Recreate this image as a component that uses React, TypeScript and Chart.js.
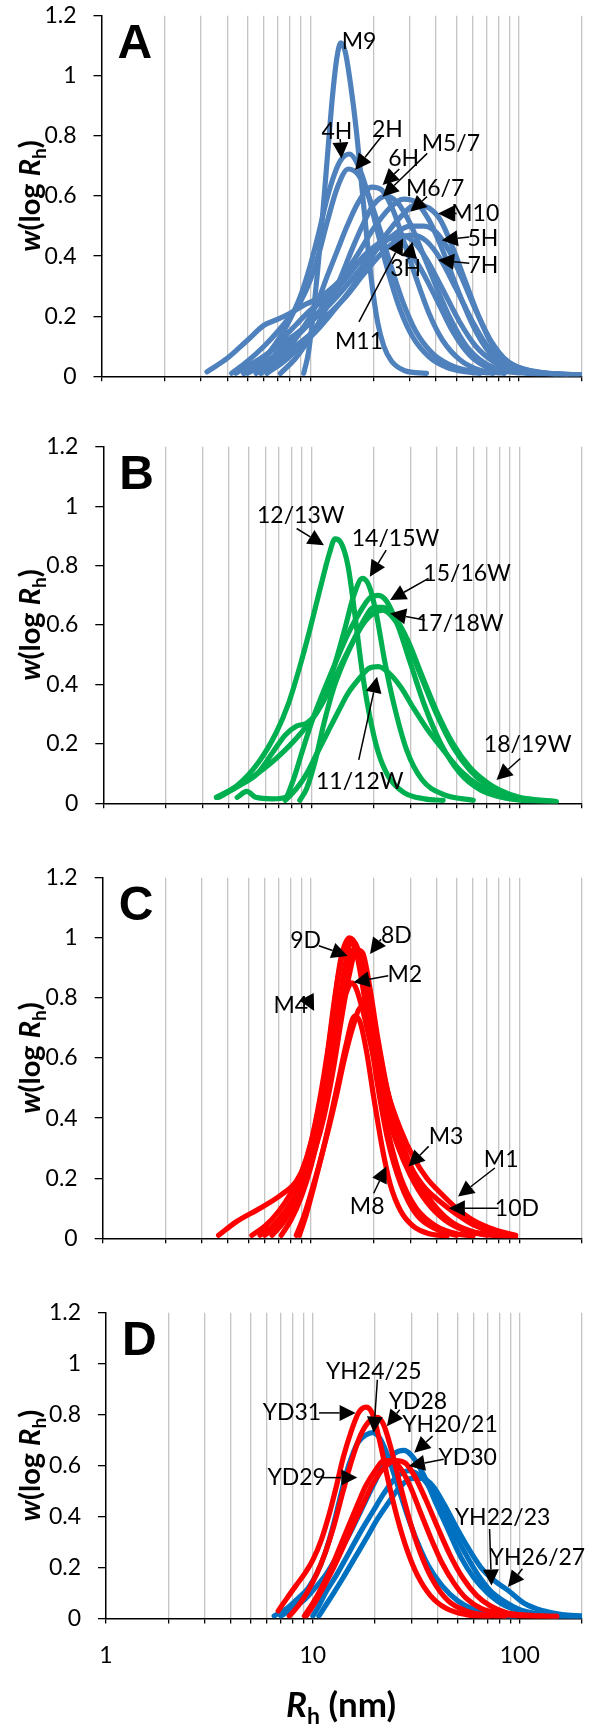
import React, { useEffect, useRef } from 'react';
import { Chart, registerables } from 'chart.js';
Chart.register(...registerables);

type Pt = [number, number];

// ---------- axes ----------
const X_TICKS = [1, 2, 3, 4, 5, 6, 7, 8, 9, 10, 20, 30, 40, 50, 60, 70, 80, 90, 100, 200];
const X_LABELS = [1, 10, 100];
const Y_TICKS = [0, 0.2, 0.4, 0.6, 0.8, 1, 1.2];

// ---------- panel A (R_h nm, w) ----------
const A_M9: Pt[] = [[9.3,0.01],[9.8,0.08],[10.3,0.2],[10.8,0.34],[11.4,0.52],[12.1,0.74],[12.8,0.94],[13.4,1.06],[14.0,1.11],[14.7,1.08],[15.6,0.97],[16.6,0.82],[17.6,0.64],[18.6,0.47],[19.7,0.31],[21.0,0.18],[22.5,0.1],[24.5,0.05],[28,0.02],[32,0.012],[36,0.01]];
const A_4H: Pt[] = [[4.8,0.01],[6,0.06],[7,0.12],[8,0.19],[9,0.27],[10,0.37],[11,0.48],[12,0.59],[13,0.67],[14,0.72],[15.4,0.74],[17,0.7],[19,0.6],[21,0.48],[24,0.33],[27,0.22],[31,0.13],[37,0.065],[45,0.03],[55,0.015],[65,0.01]];
const A_2H: Pt[] = [[4.2,0.01],[5,0.05],[6,0.1],[7,0.15],[8,0.2],[9,0.25],[10,0.32],[11,0.41],[12,0.51],[13.5,0.63],[15.2,0.69],[17,0.67],[19,0.6],[21.5,0.49],[24.5,0.36],[28,0.24],[32,0.15],[38,0.08],[46,0.04],[58,0.018],[75,0.01]];
const A_6H: Pt[] = [[5.5,0.01],[7,0.06],[8,0.1],[9,0.15],[10,0.2],[11,0.26],[12,0.33],[13.5,0.42],[15,0.5],[17,0.58],[19.7,0.63],[22,0.62],[25,0.55],[28,0.45],[32,0.33],[37,0.21],[43,0.12],[52,0.055],[65,0.02],[85,0.01]];
const A_M57: Pt[] = [[7.2,0.01],[8.5,0.06],[10,0.13],[12,0.23],[14,0.33],[16,0.43],[18,0.51],[20,0.57],[23,0.6],[26,0.58],[30,0.51],[35,0.4],[40,0.3],[47,0.19],[56,0.1],[68,0.045],[85,0.018],[110,0.01],[150,0.006]];
const A_M67: Pt[] = [[5,0.01],[6,0.04],[7,0.08],[8.5,0.13],[10,0.18],[12,0.25],[14,0.32],[17,0.41],[20,0.49],[24,0.56],[28,0.59],[32,0.58],[37,0.52],[43,0.42],[50,0.3],[60,0.17],[72,0.08],[90,0.03],[120,0.012],[190,0.005]];
const A_M10: Pt[] = [[6.2,0.01],[7.5,0.05],[9,0.1],[11,0.16],[13,0.22],[16,0.3],[19,0.38],[23,0.47],[27,0.53],[32,0.57],[37,0.56],[42,0.52],[48,0.43],[55,0.32],[64,0.2],[75,0.1],[90,0.045],[115,0.018],[150,0.008],[200,0.005]];
const A_5H: Pt[] = [[4.4,0.01],[5.5,0.05],[7,0.1],[8.5,0.14],[10,0.18],[12,0.23],[14,0.28],[17,0.35],[20,0.41],[25,0.47],[30,0.5],[35,0.5],[40,0.48],[46,0.42],[53,0.33],[62,0.22],[73,0.12],[88,0.05],[110,0.02],[150,0.008],[200,0.005]];
const A_7H: Pt[] = [[5.8,0.01],[7,0.05],[8.5,0.1],[10,0.14],[12,0.2],[15,0.27],[18,0.34],[22,0.41],[27,0.46],[31,0.47],[36,0.45],[42,0.39],[50,0.29],[60,0.18],[72,0.09],[88,0.04],[115,0.015],[170,0.006]];
const A_3H: Pt[] = [[3.2,0.015],[4,0.06],[5,0.12],[6,0.17],[7,0.19],[8,0.21],[9.5,0.24],[11,0.26],[13,0.3],[16,0.36],[20,0.42],[24,0.46],[27,0.47],[31,0.45],[36,0.39],[43,0.29],[52,0.18],[62,0.1],[75,0.05],[95,0.02],[130,0.01]];
const A_M11: Pt[] = [[4.8,0.01],[6,0.06],[7,0.11],[8.5,0.17],[10,0.22],[11.5,0.25],[13,0.28],[15,0.33],[18,0.4],[21,0.44],[24,0.46],[28,0.44],[33,0.37],[40,0.26],[48,0.15],[58,0.07],[70,0.03],[85,0.012]];

// ---------- panel B ----------
const B_1213: Pt[] = [[3.5,0.02],[4.4,0.06],[5.6,0.14],[6.8,0.24],[7.8,0.34],[8.8,0.46],[9.8,0.58],[11,0.72],[12.2,0.84],[13,0.89],[13.8,0.88],[15,0.8],[16.3,0.62],[17.5,0.45],[19,0.3],[21,0.17],[23.5,0.09],[28,0.035],[35,0.015],[43,0.01]];
const B_1415: Pt[] = [[3.5,0.02],[4.5,0.06],[5.5,0.1],[6.5,0.17],[7.5,0.23],[8.5,0.26],[9.5,0.27],[10.5,0.3],[11.7,0.37],[13,0.47],[14.4,0.58],[16,0.7],[17.6,0.757],[19,0.73],[20.5,0.64],[22.5,0.48],[25,0.33],[28.7,0.18],[34,0.08],[43,0.03],[60,0.01]];
const B_1516: Pt[] = [[4.4,0.02],[4.9,0.04],[5.4,0.02],[6.5,0.015],[7.5,0.02],[8.2,0.08],[9,0.17],[10,0.27],[11.5,0.38],[13,0.47],[15,0.57],[17,0.64],[19,0.69],[21,0.7],[23,0.68],[26,0.6],[30,0.47],[35,0.33],[42,0.2],[52,0.1],[65,0.045],[85,0.018],[110,0.008],[150,0.005]];
const B_1718: Pt[] = [[3.6,0.02],[4.5,0.06],[5.5,0.1],[6.5,0.14],[7.5,0.18],[8.5,0.22],[9.5,0.26],[10.5,0.3],[12,0.37],[14,0.47],[16,0.55],[18,0.61],[20,0.64],[22,0.65],[25,0.62],[29,0.54],[34,0.42],[40,0.3],[48,0.19],[58,0.11],[70,0.06],[85,0.03],[110,0.012],[150,0.005]];
const B_1819: Pt[] = [[8.8,0.01],[9.5,0.05],[10.5,0.15],[11.5,0.27],[12.7,0.38],[14,0.46],[16,0.55],[18,0.62],[20,0.66],[22,0.66],[25,0.63],[29,0.55],[34,0.43],[40,0.31],[48,0.2],[58,0.12],[70,0.07],[80,0.045],[100,0.02],[130,0.01],[150,0.006]];
const B_1112: Pt[] = [[7.5,0.01],[8.5,0.05],[9.5,0.1],[10.5,0.16],[12,0.24],[13.5,0.31],[15,0.37],[17,0.42],[19,0.455],[21,0.46],[23.5,0.44],[27,0.39],[31,0.32],[36,0.25],[43,0.18],[52,0.11],[64,0.06],[80,0.03],[100,0.015],[150,0.006]];

// ---------- panel C ----------
const C_9D: Pt[] = [[5.2,0.01],[6,0.04],[7,0.09],[8,0.15],[9,0.22],[10,0.32],[11,0.46],[12,0.62],[13,0.8],[14,0.94],[15.3,1.0],[16.5,0.97],[17.5,0.88],[19,0.72],[21,0.52],[23.5,0.35],[27,0.2],[32,0.1],[40,0.04],[50,0.015],[60,0.008]];
const C_M4: Pt[] = [[3.6,0.01],[4.4,0.056],[5.7,0.1],[7.2,0.145],[8.5,0.19],[9.5,0.26],[10.5,0.38],[11.5,0.52],[12.5,0.7],[13.5,0.87],[14.5,0.97],[15.5,0.99],[16.5,0.95],[17.5,0.86],[19,0.7],[21,0.5],[23.5,0.32],[27,0.18],[32,0.08],[40,0.03],[50,0.01]];
const C_8D: Pt[] = [[5.7,0.01],[6.5,0.04],[7.5,0.09],[8.5,0.15],[9.5,0.22],[10.5,0.3],[11.5,0.4],[12.7,0.55],[14,0.73],[15.3,0.88],[16.5,0.96],[17.7,0.95],[19,0.85],[21,0.66],[23.5,0.48],[27,0.33],[32,0.2],[38,0.12],[46,0.06],[58,0.025],[75,0.01],[96,0.005]];
const C_M2: Pt[] = [[7.2,0.01],[8,0.06],[9,0.14],[10,0.24],[11,0.36],[12,0.5],[13,0.63],[14,0.76],[15,0.83],[15.7,0.85],[16.5,0.83],[18,0.74],[20,0.6],[22.5,0.45],[26,0.31],[30,0.21],[36,0.12],[44,0.06],[55,0.025],[70,0.01]];
const C_M3: Pt[] = [[8.5,0.01],[9.2,0.07],[10,0.15],[11,0.25],[12,0.35],[13.2,0.47],[14.5,0.6],[16,0.71],[17.4,0.77],[18.5,0.75],[20,0.67],[22,0.55],[25,0.4],[28.7,0.27],[33,0.18],[40,0.1],[48,0.05],[60,0.02],[80,0.008]];
const C_M8: Pt[] = [[8.8,0.01],[9.5,0.08],[10.3,0.17],[11.2,0.27],[12.3,0.39],[13.5,0.52],[14.8,0.65],[16.2,0.74],[17.2,0.72],[18.5,0.62],[20,0.47],[22,0.3],[24,0.18],[27,0.09],[31,0.04],[37,0.015],[45,0.008]];
const C_M1: Pt[] = [[6,0.01],[7,0.05],[8,0.11],[9,0.18],[10,0.27],[11,0.38],[12,0.52],[13,0.67],[14,0.82],[15,0.92],[16,0.96],[17,0.93],[19,0.8],[21,0.63],[23.5,0.48],[27,0.36],[31,0.27],[36,0.2],[42,0.15],[50,0.1],[60,0.06],[75,0.03],[96,0.01]];
const C_10D: Pt[] = [[6.5,0.01],[7.5,0.06],[8.5,0.13],[9.5,0.21],[10.5,0.31],[11.5,0.44],[12.5,0.6],[13.5,0.76],[14.5,0.9],[15.8,0.99],[17,0.95],[18.5,0.8],[20.5,0.62],[23,0.45],[26,0.33],[30,0.24],[35,0.17],[42,0.12],[50,0.08],[60,0.045],[75,0.02],[96,0.008]];

// ---------- panel D ----------
const D_YD31: Pt[] = [[6.8,0.03],[7.5,0.08],[8.3,0.13],[9.2,0.18],[10,0.23],[11,0.31],[12,0.41],[13,0.52],[14,0.63],[15.4,0.74],[16.7,0.81],[18.1,0.83],[19.5,0.8],[21,0.7],[23,0.55],[25.5,0.4],[28.5,0.27],[32,0.17],[37,0.09],[44,0.04],[55,0.015],[71,0.008]];
const D_YD28: Pt[] = [[7.7,0.01],[8.5,0.05],[9.5,0.11],[10.5,0.18],[11.5,0.26],[12.6,0.36],[14,0.5],[15.4,0.62],[17,0.72],[19,0.78],[20.5,0.79],[22,0.76],[24,0.66],[26.5,0.52],[29.5,0.38],[33,0.26],[38,0.15],[45,0.07],[55,0.03],[70,0.012],[85,0.008]];
const D_YD29: Pt[] = [[9.1,0.01],[10,0.06],[11,0.12],[12.3,0.2],[13.5,0.28],[15,0.37],[16.5,0.45],[18,0.52],[20,0.58],[22,0.62],[24,0.62],[26.5,0.59],[29.5,0.52],[33,0.42],[37,0.32],[42,0.22],[48,0.14],[55,0.08],[65,0.04],[80,0.02],[100,0.01],[151,0.008]];
const D_YD30: Pt[] = [[9.3,0.01],[10.2,0.06],[11.2,0.12],[12.6,0.2],[14,0.28],[15.5,0.36],[17.5,0.45],[19.5,0.53],[22,0.59],[25,0.62],[28,0.61],[31,0.56],[35,0.47],[40,0.36],[46,0.25],[53,0.16],[62,0.09],[72,0.05],[85,0.025],[100,0.015],[125,0.01],[151,0.008]];
const D_YH2425: Pt[] = [[6.5,0.01],[7.5,0.04],[8.5,0.08],[9.5,0.12],[10.5,0.18],[11.5,0.26],[12.5,0.36],[13.5,0.47],[14.5,0.57],[15.5,0.64],[16.5,0.69],[18,0.72],[19.5,0.73],[21,0.71],[23,0.64],[25.5,0.53],[28.5,0.41],[32,0.3],[36,0.21],[42,0.13],[50,0.07],[60,0.035],[75,0.015],[95,0.007]];
const D_YH2021: Pt[] = [[7,0.01],[8,0.04],[9,0.07],[10,0.11],[11.5,0.17],[13,0.24],[15,0.33],[17,0.42],[19.5,0.52],[22,0.6],[25,0.65],[27.5,0.66],[30,0.64],[34,0.57],[39,0.46],[45,0.35],[52,0.24],[60,0.16],[70,0.1],[85,0.05],[105,0.025],[130,0.012],[190,0.006]];
const D_YH2223: Pt[] = [[10,0.01],[10.7,0.05],[11.5,0.1],[13,0.17],[15,0.26],[17,0.34],[19.5,0.42],[22,0.49],[25,0.55],[29,0.58],[33,0.56],[37,0.51],[42,0.43],[48,0.34],[55,0.25],[63,0.17],[72,0.11],[85,0.065],[100,0.035],[125,0.018],[160,0.01],[200,0.008]];
const D_YH2627: Pt[] = [[10.7,0.01],[11.5,0.05],[12.6,0.1],[14,0.16],[16,0.24],[18,0.31],[20.5,0.39],[23,0.45],[26,0.51],[30,0.55],[34,0.55],[38,0.52],[43,0.45],[50,0.35],[57,0.27],[65,0.2],[75,0.15],[88,0.11],[105,0.06],[130,0.03],[160,0.015],[200,0.01]];

// ---------- annotations: [label, textR, textW, fromR, fromW, tipR, tipW] ----------
type Note = [string, number, number, number?, number?, number?, number?];
const NOTES_A: Note[] = [
  ['M9', 17.1, 1.115],
  ['4H', 13.4, 0.814, 13.9, 0.79, 14.1, 0.725],
  ['2H', 23.4, 0.82, 21.9, 0.798, 16.4, 0.687],
  ['6H', 28, 0.726, 26.7, 0.69, 22.2, 0.637],
  ['M5/7', 47.1, 0.776, 36.3, 0.742, 22.2, 0.598],
  ['M6/7', 39.6, 0.626, 36.2, 0.598, 30.1, 0.548],
  ['M10', 61.6, 0.542, 50.2, 0.542, 40.9, 0.542],
  ['5H', 67.1, 0.459, 57.7, 0.464, 42.6, 0.453],
  ['7H', 67.1, 0.37, 57.7, 0.376, 40.9, 0.387],
  ['3H', 28.6, 0.359, 29.6, 0.39, 30.8, 0.448],
  ['M11', 17.1, 0.114, 17.1, 0.181, 27.8, 0.459],
];
const NOTES_B: Note[] = [
  ['12/13W', 8.9, 0.97, 8.5, 0.925, 11.5, 0.869],
  ['14/15W', 25.4, 0.892, 22.9, 0.852, 19.1, 0.763],
  ['15/16W', 56.1, 0.774, 36.6, 0.757, 23.9, 0.684],
  ['17/18W', 51.7, 0.606, 35.1, 0.617, 23.9, 0.639],
  ['18/19W', 109.6, 0.196, 101, 0.151, 77.6, 0.0785],
  ['11/12W', 17.1, 0.073, 16.9, 0.146, 20.7, 0.426],
];
const NOTES_C: Note[] = [
  ['9D', 9.43, 0.99, 10.9, 0.974, 15.0, 0.94],
  ['8D', 25.7, 1.007, 21.7, 0.996, 19.2, 0.946],
  ['M2', 28.2, 0.879, 23.5, 0.874, 16.0, 0.852],
  ['M4', 8.0, 0.774, 9.6, 0.8, 10.35, 0.757],
  ['M3', 44.5, 0.34, 36.7, 0.306, 29.4, 0.239],
  ['M8', 18.6, 0.106, 20, 0.15, 23.0, 0.239],
  ['M1', 81.8, 0.262, 76.3, 0.234, 50.8, 0.139],
  ['10D', 97.4, 0.1, 79.4, 0.1, 45.9, 0.1],
];
const NOTES_D: Note[] = [
  ['YH24/25', 19.7, 0.97, 20.5, 0.937, 19.7, 0.729],
  ['YD31', 7.92, 0.807, 10.7, 0.807, 16.1, 0.807],
  ['YD28', 32.2, 0.853, 26.3, 0.82, 22.8, 0.755],
  ['YH20/21', 46, 0.761, 37.9, 0.716, 30.9, 0.651],
  ['YD30', 56, 0.631, 42.9, 0.625, 29.1, 0.599],
  ['YD29', 8.35, 0.553, 11.1, 0.553, 16.4, 0.553],
  ['YH22/23', 82.6, 0.397, 71.5, 0.351, 73, 0.13],
  ['YH26/27', 121.7, 0.241, 103, 0.195, 87.7, 0.124],
];

const BLUE_A = '#4F81BD';
const GREEN = '#00B050';
const RED = '#FF0000';
const BLUE_D = '#0070C0';

type Series = { name: string; color: string; pts: Pt[] };
type PanelDef = {
  letter: string;
  series: Series[];
  notes: Note[];
  showX: boolean;
  box: { left: number; top: number; bottom: number; decade: number };
};

const PANELS: PanelDef[] = [
  {
    letter: 'A', showX: false, notes: NOTES_A,
    box: { left: 101.5, top: 15.7, bottom: 376.3, decade: 214 },
    series: [
      { name: 'M9', color: BLUE_A, pts: A_M9 }, { name: '4H', color: BLUE_A, pts: A_4H },
      { name: '2H', color: BLUE_A, pts: A_2H }, { name: '6H', color: BLUE_A, pts: A_6H },
      { name: 'M5/7', color: BLUE_A, pts: A_M57 }, { name: 'M6/7', color: BLUE_A, pts: A_M67 },
      { name: 'M10', color: BLUE_A, pts: A_M10 }, { name: '5H', color: BLUE_A, pts: A_5H },
      { name: '7H', color: BLUE_A, pts: A_7H }, { name: '3H', color: BLUE_A, pts: A_3H },
      { name: 'M11', color: BLUE_A, pts: A_M11 },
    ],
  },
  {
    letter: 'B', showX: false, notes: NOTES_B,
    box: { left: 103.3, top: 446.5, bottom: 803.3, decade: 213.6 },
    series: [
      { name: '12/13W', color: GREEN, pts: B_1213 }, { name: '14/15W', color: GREEN, pts: B_1415 },
      { name: '15/16W', color: GREEN, pts: B_1516 }, { name: '17/18W', color: GREEN, pts: B_1718 },
      { name: '18/19W', color: GREEN, pts: B_1819 }, { name: '11/12W', color: GREEN, pts: B_1112 },
    ],
  },
  {
    letter: 'C', showX: false, notes: NOTES_C,
    box: { left: 102.7, top: 877.3, bottom: 1238.3, decade: 213.7 },
    series: [
      { name: '9D', color: RED, pts: C_9D }, { name: 'M4', color: RED, pts: C_M4 },
      { name: '8D', color: RED, pts: C_8D }, { name: 'M2', color: RED, pts: C_M2 },
      { name: 'M3', color: RED, pts: C_M3 }, { name: 'M8', color: RED, pts: C_M8 },
      { name: 'M1', color: RED, pts: C_M1 }, { name: '10D', color: RED, pts: C_10D },
    ],
  },
  {
    letter: 'D', showX: true, notes: NOTES_D,
    box: { left: 106, top: 1312.7, bottom: 1618.5, decade: 212.2 },
    series: [
      { name: 'YD31', color: RED, pts: D_YD31 }, { name: 'YD28', color: RED, pts: D_YD28 },
      { name: 'YD29', color: RED, pts: D_YD29 }, { name: 'YD30', color: RED, pts: D_YD30 },
      { name: 'YH24/25', color: BLUE_D, pts: D_YH2425 }, { name: 'YH20/21', color: BLUE_D, pts: D_YH2021 },
      { name: 'YH22/23', color: BLUE_D, pts: D_YH2223 }, { name: 'YH26/27', color: BLUE_D, pts: D_YH2627 },
    ],
  },
];

const FONT = 'Lato';

type Seg = { t: string; italic?: boolean; sub?: boolean };
function drawRich(ctx: CanvasRenderingContext2D, segs: Seg[], size: number, cx: number, y: number) {
  const fontOf = (s: Seg) => `${s.italic ? 'italic ' : ''}bold ${s.sub ? Math.round(size * 0.66) : size}px ${FONT}`;
  let total = 0;
  const widths = segs.map((s) => {
    ctx.font = fontOf(s);
    const w = ctx.measureText(s.t).width;
    total += w;
    return w;
  });
  let x = cx - total / 2;
  ctx.textAlign = 'left';
  ctx.textBaseline = 'alphabetic';
  segs.forEach((s, i) => {
    ctx.font = fontOf(s);
    ctx.fillText(s.t, x, s.sub ? y + size * 0.22 : y);
    x += widths[i];
  });
}

function drawArrow(ctx: CanvasRenderingContext2D, x1: number, y1: number, x2: number, y2: number) {
  const ang = Math.atan2(y2 - y1, x2 - x1);
  const L = 16, W = 8;
  const bx = x2 - L * Math.cos(ang), by = y2 - L * Math.sin(ang);
  const len = Math.hypot(x2 - x1, y2 - y1);
  if (len > L) {
    ctx.beginPath();
    ctx.moveTo(x1, y1);
    ctx.lineTo(bx, by);
    ctx.stroke();
  }
  ctx.beginPath();
  ctx.moveTo(x2, y2);
  ctx.lineTo(bx + W * Math.sin(ang), by - W * Math.cos(ang));
  ctx.lineTo(bx - W * Math.sin(ang), by + W * Math.cos(ang));
  ctx.closePath();
  ctx.fill();
}

function makeDecor(def: PanelDef) {
  return {
    id: 'decor' + def.letter,
    afterDatasetsDraw(chart: any) {
      const { ctx, chartArea } = chart;
      const xs = chart.scales.x, ys = chart.scales.y;
      ctx.save();
      ctx.fillStyle = '#000';
      ctx.strokeStyle = '#000';
      // panel letter
      ctx.font = 'bold 48px "Liberation Sans"';
      ctx.textAlign = 'left';
      ctx.textBaseline = 'alphabetic';
      ctx.fillText(def.letter, chartArea.left + 16, chartArea.top + 42);
      // y title
      ctx.save();
      ctx.translate(40, (chartArea.top + chartArea.bottom) / 2);
      ctx.rotate(-Math.PI / 2);
      drawRich(ctx, [{ t: 'w', italic: true }, { t: '(log ' }, { t: 'R', italic: true }, { t: 'h', sub: true }, { t: ')' }], 29, 0, 0);
      ctx.restore();
      // x title
      if (def.showX) {
        drawRich(ctx, [{ t: 'R', italic: true }, { t: 'h', sub: true }, { t: ' (nm)' }], 35, (chartArea.left + chartArea.right) / 2 - 3, chartArea.bottom + 98);
      }
      // annotations
      ctx.lineWidth = 1.5;
      def.notes.forEach((n) => {
        const [label, tr, tw, fr, fw, pr, pw] = n;
        if (fr !== undefined && pr !== undefined) {
          drawArrow(ctx, xs.getPixelForValue(fr), ys.getPixelForValue(fw), xs.getPixelForValue(pr), ys.getPixelForValue(pw));
        }
        ctx.font = `23px ${FONT}`;
        ctx.textAlign = 'center';
        ctx.textBaseline = 'middle';
        ctx.fillText(label, xs.getPixelForValue(tr), ys.getPixelForValue(tw));
      });
      ctx.restore();
    },
  };
}

const CANVAS_W = 600;

function PanelChart({ def }: { def: PanelDef }) {
  const ref = useRef<HTMLCanvasElement>(null);
  const { left, top, bottom, decade } = def.box;
  const canvasTop = Math.floor(top) - 30;
  const canvasH = Math.ceil(bottom) - canvasTop + 110;

  useEffect(() => {
    const right = left + Math.log10(200) * decade;
    const padTop = top - canvasTop;
    const xAxisH = 60;
    const padBottom = canvasH - (bottom - canvasTop) - xAxisH;
    const tickFont = { family: FONT, size: 23 };
    const chart = new Chart(ref.current as HTMLCanvasElement, {
      type: 'line',
      data: {
        datasets: def.series.map((s) => ({
          label: s.name,
          data: s.pts.map(([x, y]) => ({ x, y })),
          borderColor: s.color,
          backgroundColor: s.color,
          borderWidth: 5.2,
          pointRadius: 0,
          fill: false,
          cubicInterpolationMode: 'monotone',
          borderCapStyle: 'round',
          borderJoinStyle: 'round',
        })),
      } as any,
      options: {
        responsive: false,
        animation: false,
        devicePixelRatio: 1,
        layout: { padding: { left: 0, right: CANVAS_W - right, top: padTop, bottom: padBottom } },
        plugins: { legend: { display: false }, tooltip: { enabled: false } },
        scales: {
          x: {
            type: 'logarithmic',
            min: 1,
            max: 200,
            bounds: 'data',
            afterBuildTicks: (sc: any) => { sc.ticks = X_TICKS.map((v) => ({ value: v })); },
            afterFit: (sc: any) => { sc.height = xAxisH; },
            grid: {
              color: (c: any) => (c.tick && c.tick.value === 1 ? 'rgba(0,0,0,0)' : '#c4c4c4'),
              tickColor: '#000',
              lineWidth: 1.3,
              tickLength: 5,
            },
            border: { color: '#000', width: 1.5 },
            ticks: {
              autoSkip: false,
              maxRotation: 0,
              minRotation: 0,
              padding: 18,
              color: '#000',
              font: tickFont,
              callback: (v: any) => (def.showX && X_LABELS.includes(Number(v)) ? String(v) : ''),
            },
          },
          y: {
            type: 'linear',
            min: 0,
            max: 1.2,
            afterBuildTicks: (sc: any) => { sc.ticks = Y_TICKS.map((v) => ({ value: v })); },
            afterFit: (sc: any) => { sc.width = left; },
            grid: { drawOnChartArea: false, color: '#000', tickLength: 8, lineWidth: 1.3 },
            border: { color: '#000', width: 1.5 },
            ticks: {
              padding: 17,
              color: '#000',
              font: tickFont,
              callback: (v: any) => String(Math.round(Number(v) * 10) / 10),
            },
          },
        },
      } as any,
      plugins: [makeDecor(def)],
    });
    return () => chart.destroy();
  }, []);

  return (
    <canvas
      ref={ref}
      width={CANVAS_W}
      height={canvasH}
      style={{ position: 'absolute', left: 0, top: canvasTop, width: CANVAS_W, height: canvasH }}
    />
  );
}

export default function App() {
  return (
    <div style={{ position: 'absolute', left: 0, top: 0, width: 591, height: 1726, overflow: 'hidden', background: '#fff' }}>
      {PANELS.map((p) => (
        <PanelChart key={p.letter} def={p} />
      ))}
    </div>
  );
}
